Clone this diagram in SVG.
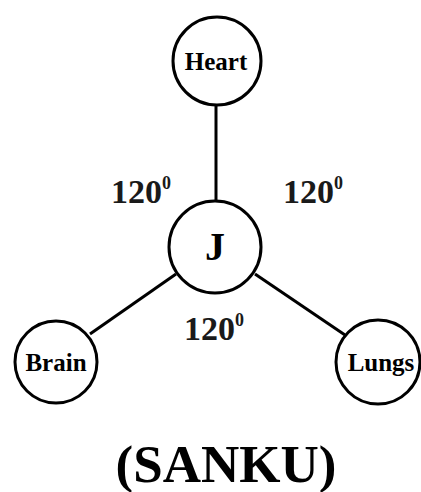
<svg xmlns="http://www.w3.org/2000/svg" width="421" height="492" viewBox="0 0 421 492">
<style>
.node{fill:#fff;stroke:#000;stroke-width:3}
.edge{stroke:#000;stroke-width:3;fill:none}
.lbl{font-family:"Liberation Serif",serif;font-weight:bold;fill:#000;text-anchor:middle}
.nl{font-size:25px}
.ang{font-family:"Liberation Serif",serif;font-weight:bold;fill:#1a1a1a;font-size:34px}
.sup{font-size:18px}
</style>
<rect width="421" height="492" fill="#fff"/>
<g id="connectors">
<line class="edge" x1="216" y1="105" x2="216" y2="200"/>
<line class="edge" x1="176" y1="274" x2="90" y2="334"/>
<line class="edge" x1="255" y1="274" x2="345" y2="335"/>
</g>
<g id="heart">
<circle class="node" cx="217" cy="61" r="44"/>
<text class="lbl nl" x="216" y="70">Heart</text>
</g>
<g id="j">
<circle class="node" cx="215" cy="247" r="46"/>
<text class="lbl" x="215" y="260" font-size="40">J</text>
</g>
<g id="brain">
<circle class="node" cx="56" cy="362" r="41"/>
<text class="lbl nl" x="56" y="371">Brain</text>
</g>
<g id="lungs">
<circle class="node" cx="378" cy="362" r="42"/>
<text class="lbl nl" x="381" y="371">Lungs</text>
</g>
<g id="angles">
<text class="ang" x="111" y="203">120<tspan class="sup" dy="-14">0</tspan></text>
<text class="ang" x="283" y="203">120<tspan class="sup" dy="-14">0</tspan></text>
<text class="ang" x="184" y="340">120<tspan class="sup" dy="-14">0</tspan></text>
</g>
<text class="lbl" x="226" y="482" font-size="53">(SANKU)</text>
</svg>
